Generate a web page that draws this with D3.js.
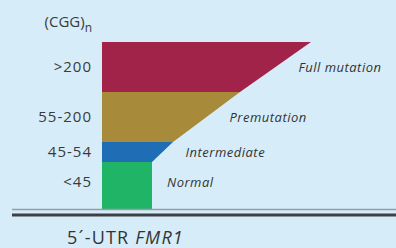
<!DOCTYPE html>
<html><head><meta charset="utf-8">
<script src="https://cdn.jsdelivr.net/npm/d3@7/dist/d3.min.js"></script>
<style>
html,body{margin:0;padding:0;background:#d6edf9;}
svg{display:block;}
text{font-family:"Open Sans",sans-serif;}
</style></head>
<body>
<script>
// Data (bottom to top)
const categories = ["Normal", "Intermediate", "Premutation", "Full mutation"];
const repeatLabels = ["<45", "45-54", "55-200", ">200"];
// relative stack boundaries (bottom, top) in arbitrary height units
const bandBottom = [0, 47, 67, 117];
const bandTop    = [47, 67, 117, 167];
// relative width (tract length) at the bottom and top of each band
const widthBottom = [50, 50, 71, 138];
const widthTop    = [50, 71, 138, 209];
const colors = ["#1fb466", "#1e6db5", "#a88a3b", "#a2234a"];

const W = 396, H = 248;
const svg = d3.select("body").append("svg").attr("width", W).attr("height", H);
svg.append("rect").attr("width", W).attr("height", H).attr("fill", "#d6edf9");

const x = d3.scaleLinear().domain([0, 209]).range([102, 311]);
const y = d3.scaleLinear().domain([0, 167]).range([209, 42]);

const data = categories.map((c, i) => ({
  name: c, label: repeatLabels[i], b: bandBottom[i], t: bandTop[i],
  wb: widthBottom[i], wt: widthTop[i], color: colors[i]
}));

svg.selectAll("path.band").data(data).enter().append("path")
  .attr("class", "band")
  .attr("fill", d => d.color)
  .attr("d", d => "M" + [[x(0), y(d.b)], [x(d.wb), y(d.b)], [x(d.wt), y(d.t)], [x(0), y(d.t)]].map(p => p.join(",")).join("L") + "Z");

const labelY = d => Math.min((y(d.b) + y(d.t)) / 2 + 4.5, 187);

// left labels
svg.selectAll("text.rep").data(data).enter().append("text")
  .attr("class", "rep")
  .attr("x", 92)
  .attr("y", labelY)
  .attr("text-anchor", "end")
  .attr("font-size", 15)
  .attr("letter-spacing", 1)
  .attr("fill", "#3a3a3a")
  .text(d => d.label);

// (CGG)n header
const hdr = svg.append("text").attr("x", 92).attr("y", 27).attr("text-anchor", "end")
  .attr("font-size", 15).attr("fill", "#3a3a3a");
hdr.append("tspan").text("(CGG)");
hdr.append("tspan").attr("font-size", 12).attr("dy", 5).text("n");

// right italic labels
svg.selectAll("text.cat").data(data).enter().append("text")
  .attr("class", "cat")
  .attr("x", d => (d.wb === d.wt ? x(d.wt) + 15 : x((d.wb + d.wt) / 2) + 23))
  .attr("y", labelY)
  .attr("font-size", 13)
  .attr("letter-spacing", 0.5)
  .attr("font-style", "italic")
  .attr("fill", "#333")
  .text(d => d.name);

// gene lines
svg.append("line").attr("x1", 12).attr("x2", W).attr("y1", y(0) + 0.5).attr("y2", y(0) + 0.5)
  .attr("stroke", "#969da4").attr("stroke-width", 1.5);
svg.append("line").attr("x1", 12).attr("x2", W).attr("y1", 215).attr("y2", 215)
  .attr("stroke", "#3c4046").attr("stroke-width", 3);

const g = svg.append("text").attr("x", 67).attr("y", 244).attr("font-size", 18)
  .attr("letter-spacing", 1.2).attr("fill", "#333");
g.append("tspan").text("5´-UTR ");
g.append("tspan").attr("font-style", "italic").text("FMR1");
</script>
</body></html>
